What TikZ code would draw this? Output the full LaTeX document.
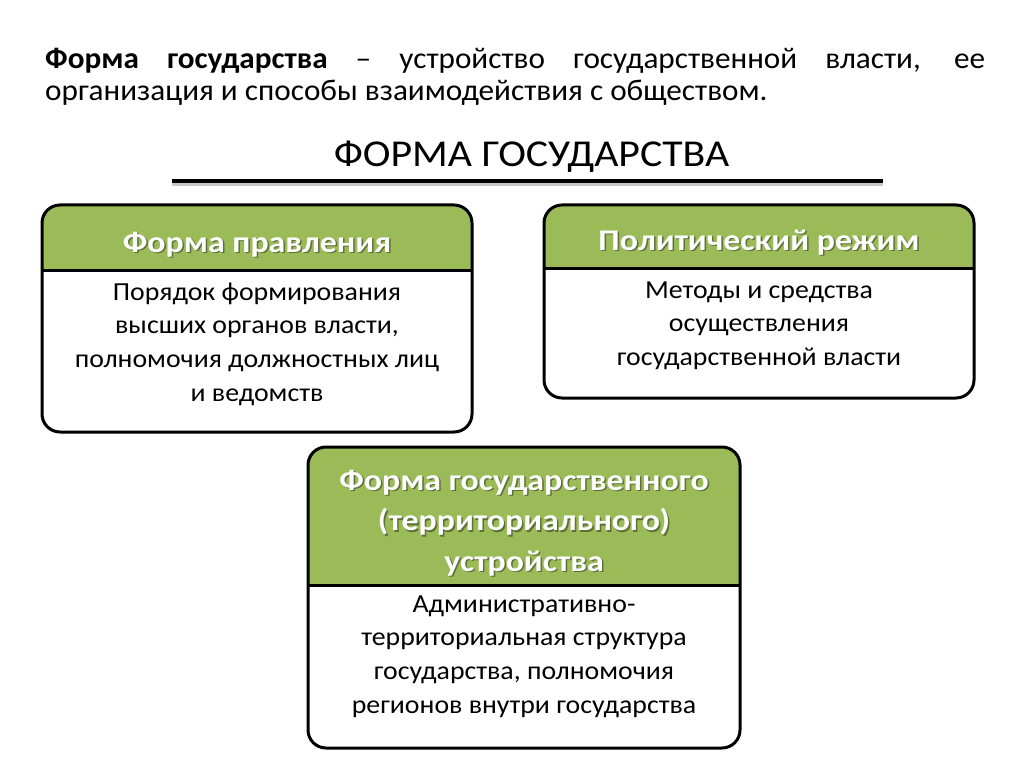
\documentclass[tikz,border=0pt]{standalone}
\usepackage{fontspec}
\setmainfont{Carlito}
\newfontfamily\deffont[FakeStretch=1.04]{Carlito}
\newfontfamily\bodyfont[FakeStretch=1.07]{Carlito}
\newfontfamily\hdrfont[FakeStretch=1.13]{Carlito}
\newfontfamily\titlefont[FakeStretch=1.1]{Carlito}
\definecolor{hdrgreen}{HTML}{9BBB59}
\tikzset{
  frame/.style={line width=3pt, rounded corners=18pt},
  sepline/.style={line width=3pt},
  hdrtxt/.style={text=white, font=\hdrfont\fontsize{30}{40.5}\selectfont\bfseries, align=flush center, text width=420pt, inner sep=0pt, anchor=base},
  hdrshd/.style={hdrtxt, text=black, text opacity=0.4},
  bodytxt/.style={text=black, font=\bodyfont\fontsize{26}{33.8}\selectfont, align=flush center, text width=420pt, inner sep=0pt, anchor=base},
  deftxt/.style={font=\deffont\fontsize{30}{32}\selectfont, inner sep=0pt, anchor=base west},
  ruleline/.style={line width=4pt},
  ruleshadow/.style={line width=4pt, black!22},
}
\begin{document}
\begin{tikzpicture}[x=1pt,y=-1pt]
\useasboundingbox (0,0) rectangle (1024,767);
\fill[white] (0,0) rectangle (1024,767);

% definition
\node[deftxt] (def1) at (45,69) {\makebox[940pt][s]{\textbf{Форма} \textbf{государства} – устройство государственной власти, ее}};
\node[deftxt] (def2) at (45,101) {организация и способы взаимодействия с обществом.};

% title
\node[font=\titlefont\fontsize{38}{40}\selectfont, inner sep=0pt, anchor=base] (title) at (531.5,167) {ФОРМА ГОСУДАРСТВА};
\coordinate (rl) at (172,181);
\coordinate (rr) at (883,181);
\draw[ruleshadow] ([yshift=-3pt]rl) -- ([yshift=-3pt]rr);
\draw[ruleline] (rl) -- (rr);

% box 1
\begin{scope}
\clip[rounded corners=18pt] (42,205) rectangle (472,432);
\fill[white] (42,205) rectangle (472,432);
\fill[hdrgreen] (42,205) rectangle (472,270);
\end{scope}
\draw[sepline] (42,270) -- (472,270);
\draw[frame] (42,205) rectangle (472,432);
\node[hdrshd] (h1s) at (258.5,253.5) {Форма правления};
\node[hdrtxt] (h1) at (257,252) {Форма правления};
\node[bodytxt] (b1) at (257,300) {Порядок формирования\\высших органов власти,\\полномочия должностных лиц\\и ведомств};

% box 2
\begin{scope}
\clip[rounded corners=18pt] (544,205) rectangle (974,398);
\fill[white] (544,205) rectangle (974,398);
\fill[hdrgreen] (544,205) rectangle (974,268);
\end{scope}
\draw[sepline] (544,268) -- (974,268);
\draw[frame] (544,205) rectangle (974,398);
\node[hdrshd] (h2s) at (760.5,251.5) {Политический режим};
\node[hdrtxt] (h2) at (759,250) {Политический режим};
\node[bodytxt] (b2) at (759,298) {Методы и средства\\осуществления\\государственной власти};

% box 3
\begin{scope}
\clip[rounded corners=18pt] (308,447) rectangle (740,748);
\fill[white] (308,447) rectangle (740,748);
\fill[hdrgreen] (308,447) rectangle (740,585);
\end{scope}
\draw[sepline] (308,585) -- (740,585);
\draw[frame] (308,447) rectangle (740,748);
\node[hdrshd] (h3s) at (525.5,491.5) {Форма государственного\\(территориального)\\устройства};
\node[hdrtxt] (h3) at (524,490) {Форма государственного\\(территориального)\\устройства};
\node[bodytxt] (b3) at (524,612) {Административно-\\территориальная структура\\государства, полномочия\\регионов внутри государства};
\end{tikzpicture}
\end{document}
